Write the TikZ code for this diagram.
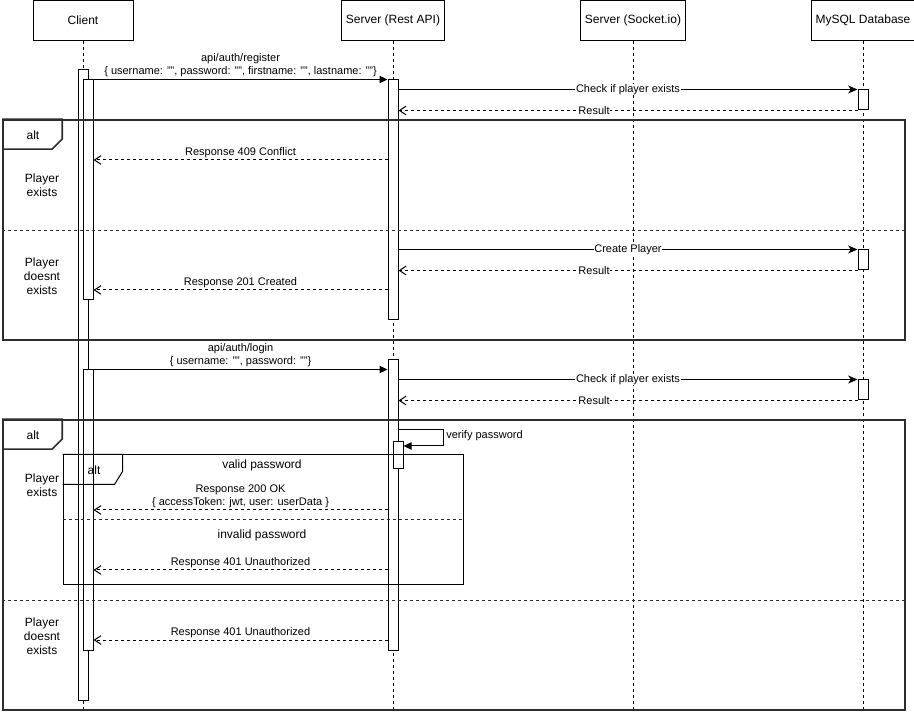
\documentclass[tikz,border=0pt]{standalone}
\usepackage{fontspec}
\setmainfont{Liberation Sans}
\usetikzlibrary{positioning,fit,arrows.meta,calc}
\definecolor{FrameDark}{RGB}{45,45,45}

\begin{document}
\begin{tikzpicture}[
  x=0.75pt, y=-0.75pt,
  every node/.style={font=\fontsize{8.25}{9.75}\selectfont},
  head/.style={
    rectangle, draw, line width=0.75pt,
    minimum width=75pt, minimum height=30pt,
    font=\fontsize{9}{11}\selectfont
  },
  life/.style={draw, line width=0.75pt, dash pattern=on 2.25pt off 2.25pt},
  act/.style={rectangle, draw, fill=white, line width=0.75pt, inner sep=0pt},
  frame/.style={rectangle, draw=FrameDark, line width=1.3pt, inner sep=0pt},
  subframe/.style={rectangle, draw, line width=0.75pt, inner sep=0pt},
  sep/.style={draw=FrameDark, line width=0.75pt, dash pattern=on 2.25pt off 2.25pt},
  tag/.style={font=\fontsize{9}{11}\selectfont},
  cond/.style={align=center, font=\fontsize{9}{10.5}\selectfont},
  call/.style={draw, line width=0.75pt, -{Triangle[length=6pt,width=5.5pt]}},
  query/.style={draw, line width=0.75pt, -{Stealth[length=7pt,width=6pt,inset=2pt]}},
  reply/.style={draw, line width=0.75pt, dash pattern=on 2.25pt off 2.25pt,
    -{Straight Barb[length=5pt,width=6.5pt]}},
  msg/.style={above, inner sep=1.5pt, align=center},
  onmsg/.style={fill=white, inner sep=0.5pt}
]
\useasboundingbox (0,0) rectangle (914,712);

%% Participants
\node[head] (cl)   at (83,20.5)  {Client};
\node[head] (api)  at (393,20.5) {Server (Rest API)};
\node[head] (sock) at (633,20.5) {Server (Socket.io)};
\node[head] (db)   at (863,20.5) {MySQL Database};

%% Lifelines
\coordinate (clEnd)   at (83,712);
\coordinate (apiEnd)  at (393,712);
\coordinate (sockEnd) at (633,712);
\coordinate (dbEnd)   at (863,712);
\draw[life] (cl.south) -- (clEnd);
\draw[life] (api.south) -- (apiEnd);
\draw[life] (sock.south) -- (sockEnd);
\draw[life] (db.south) -- (dbEnd);

%% Activations
\node[act, fit={(78,70)(88,700)}]   (cla)  {};
\node[act, fit={(83,80)(93,300)}]   (cl1)  {};
\node[act, fit={(83,370)(93,650)}]  (cl2)  {};
\node[act, fit={(388,80)(398,320)}] (api1) {};
\node[act, fit={(388,360)(398,650)}] (api2) {};
\node[act, fit={(393,442)(403,469)}] (api3) {};
\node[act, fit={(858,90)(868,110)}]  (db1)  {};
\node[act, fit={(858,250)(868,270)}] (db2)  {};
\node[act, fit={(858,380)(868,400)}] (db3)  {};

%% Message heights
\coordinate (m409) at (0,160);
\coordinate (m201) at (0,290);
\coordinate (mvp)  at (0,430);
\coordinate (mvpb) at (0,446);
\coordinate (m200) at (0,510);
\coordinate (m401) at (0,570);
\coordinate (m401b) at (0,640);

%% Register
\draw[call] (cl1.north east) -- node[msg] {api/auth/register\\\{ username: "", password: "", firstname: "", lastname: ""\}} (api1.north west);
\draw[query] (api1.east |- db1.north) -- node[onmsg] {Check if player exists} (db1.north west);
\draw[reply] (db1.south west) -- node[onmsg, pos=0.574] {Result} (api1.east |- db1.south);
\draw[reply] (api1.west |- m409) -- node[msg] {Response 409 Conflict} (cl1.east |- m409);
\draw[query] (api1.east |- db2.north) -- node[onmsg] {Create Player} (db2.north west);
\draw[reply] (db2.south west) -- node[onmsg, pos=0.574] {Result} (api1.east |- db2.south);
\draw[reply] (api1.west |- m201) -- node[msg] {Response 201 Created} (cl1.east |- m201);

%% Login
\draw[call] (cl2.north east) -- node[msg] {api/auth/login\\\{ username: "", password: ""\}} (api2.west |- cl2.north);
\draw[query] (api2.east |- db3.north) -- node[onmsg] {Check if player exists} (db3.north west);
\draw[reply] (db3.south west) -- node[onmsg, pos=0.574] {Result} (api2.east |- db3.south);
\draw[call] (api2.east |- mvp) -- ++(45,0) |- (api3.east |- mvpb);
\node[anchor=west, inner sep=0pt] (vp) at (446,436) {verify password};
\draw[reply] (api2.west |- m200) -- node[msg] {Response 200 OK\\\{ accessToken: jwt, user: userData \}} (cl2.east |- m200);
\draw[reply] (api2.west |- m401) -- node[msg] {Response 401 Unauthorized} (cl2.east |- m401);
\draw[reply] (api2.west |- m401b) -- node[msg] {Response 401 Unauthorized} (cl2.east |- m401b);

%% Alt -- register
\node[frame, fit={(3,120)(905,340)}] (alt1) {};
\draw[frame] (alt1.north west) -- ++(60,0) -- ++(0,20) -- ++(-10,10) -- ++(-50,0);
\node[tag] (alt1tag) at (33,135) {alt};
\coordinate (alt1mid) at (0,231);
\draw[sep] (alt1.west |- alt1mid) -- (alt1.east |- alt1mid);
\node[cond] (c1) at (42,185) {Player\\exists};
\node[cond] (c2) at (42,276) {Player\\doesnt\\exists};

%% Alt -- login
\node[frame, fit={(3,420)(905,710)}] (alt2) {};
\draw[frame] (alt2.north west) -- ++(60,0) -- ++(0,20) -- ++(-10,10) -- ++(-50,0);
\node[tag] (alt2tag) at (33,435) {alt};
\coordinate (alt2mid) at (0,600);
\draw[sep] (alt2.west |- alt2mid) -- (alt2.east |- alt2mid);
\node[cond] (c3) at (42,485) {Player\\exists};
\node[cond] (c4) at (42,636) {Player\\doesnt\\exists};

%% Alt -- password
\node[subframe, fit={(63,455)(463,585)}] (alt3) {};
\draw[line width=0.75pt] (alt3.north west) -- ++(60,0) -- ++(0,17) -- ++(-8,13) -- ++(-52,0);
\node[tag] (alt3tag) at (94,470) {alt};
\coordinate (alt3mid) at (0,520);
\draw[sep] (alt3.west |- alt3mid) -- (alt3.east |- alt3mid);
\node[tag] (c5) at (262,465) {valid password};
\node[tag] (c6) at (262,535) {invalid password};

\end{tikzpicture}
\end{document}
